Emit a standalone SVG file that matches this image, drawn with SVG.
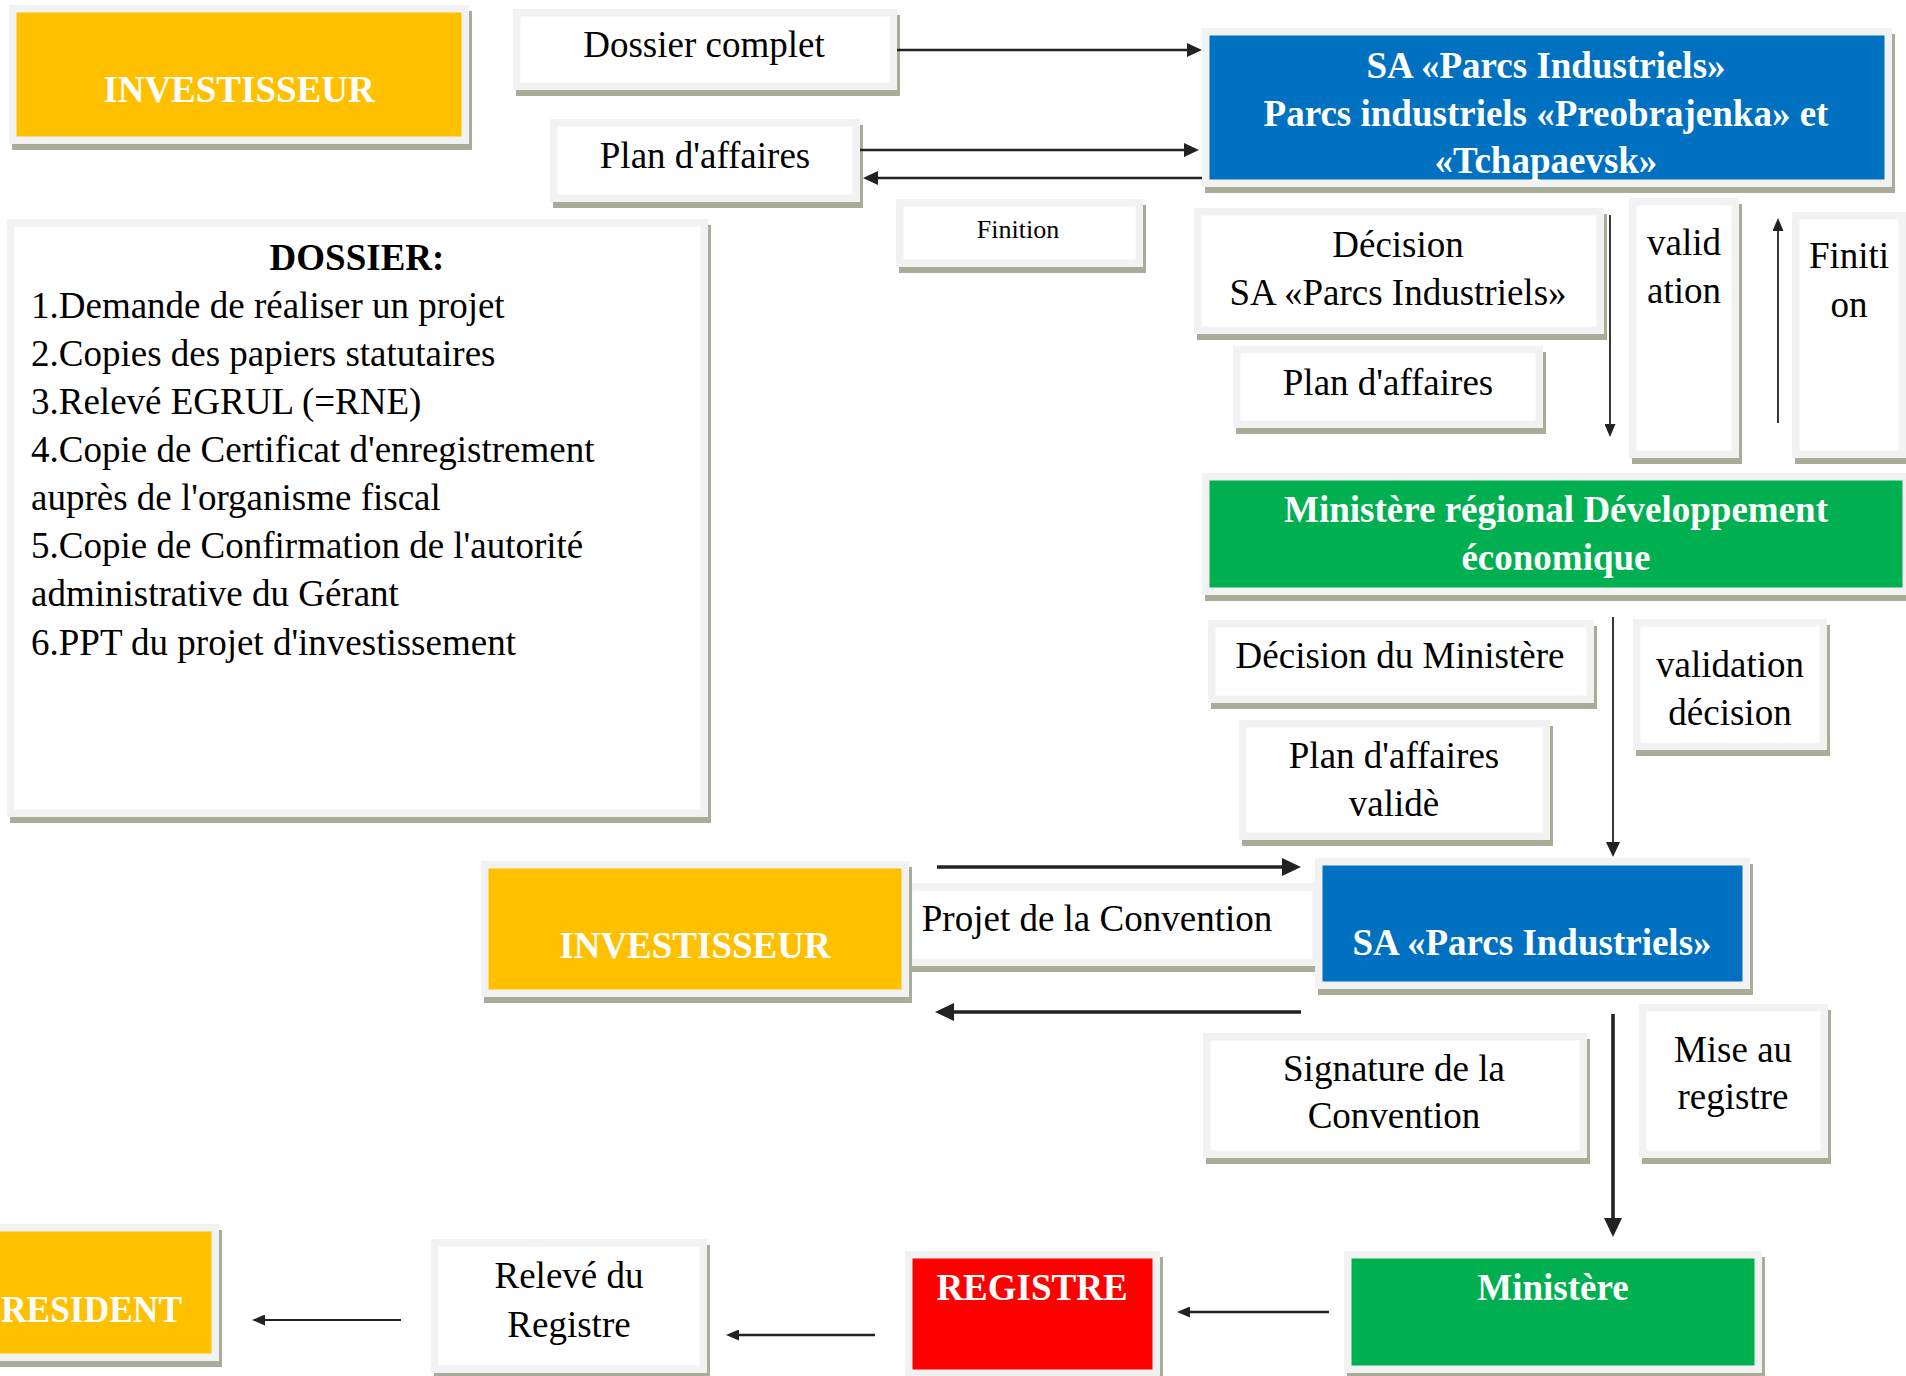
<svg xmlns="http://www.w3.org/2000/svg" width="1906" height="1376" viewBox="0 0 1906 1376">
<style>
.sh{fill:#a7ad97}
.fr{fill:#f2f2f2}
.w{fill:#ffffff}
.or{fill:#ffc000}
.bl{fill:#0070c0}
.gr{fill:#00b050}
.rd{fill:#ff0000}
text{font-family:"Liberation Serif","Times New Roman",serif;font-size:37px;fill:#000;text-anchor:middle}
.b{font-weight:bold;fill:#fff}
.h{font-weight:bold;fill:#000}
.l{text-anchor:start}
.s{font-size:26px}
.c line{stroke:#222;fill:none}
.thin{stroke-width:1.8}
.med{stroke-width:2.5}
.thk{stroke-width:3.6}
</style>
<defs>
<marker id="ht" markerUnits="userSpaceOnUse" markerWidth="13" markerHeight="11" refX="7" refY="5.5" orient="auto"><path d="M0,0 L13,5.5 L0,11 z" fill="#222"/></marker>
<marker id="hm" markerUnits="userSpaceOnUse" markerWidth="15" markerHeight="14" refX="9" refY="7" orient="auto"><path d="M0,0 L15,7 L0,14 z" fill="#222"/></marker>
<marker id="hk" markerUnits="userSpaceOnUse" markerWidth="19" markerHeight="18" refX="12" refY="9" orient="auto"><path d="M0,0 L19,9 L0,18 z" fill="#222"/></marker>
</defs>
<rect x="0" y="0" width="1906" height="1376" fill="#fff"/>

<g id="inv1"><rect class="sh" x="12" y="11" width="460" height="139"/><rect class="fr" x="9" y="5" width="460" height="139"/><rect class="or" x="16.5" y="12.5" width="445" height="124"/><text class="b" x="239" y="102">INVESTISSEUR</text></g>

<g id="dossierComplet"><rect class="sh" x="516" y="15" width="384" height="81"/><rect class="fr" x="513" y="9" width="384" height="81"/><rect class="w" x="520.5" y="16.5" width="369" height="66"/><text x="704" y="57">Dossier complet</text></g>

<g id="planAffaires1"><rect class="sh" x="553" y="125" width="310" height="83"/><rect class="fr" x="550" y="119" width="310" height="83"/><rect class="w" x="557.5" y="126.5" width="295" height="68"/><text x="705" y="168">Plan d'affaires</text></g>

<g id="dossierList"><rect class="sh" x="10" y="225" width="701" height="598"/><rect class="fr" x="7" y="219" width="701" height="598"/><rect class="w" x="14.5" y="226.5" width="686" height="583"/>
<text class="h" x="357" y="270">DOSSIER:</text>
<text class="l" x="31" y="318">1.Demande de réaliser un projet</text>
<text class="l" x="31" y="366">2.Copies des papiers statutaires</text>
<text class="l" x="31" y="414">3.Relevé EGRUL (=RNE)</text>
<text class="l" x="31" y="462">4.Copie de Certificat d'enregistrement</text>
<text class="l" x="31" y="510">auprès de l'organisme fiscal</text>
<text class="l" x="31" y="558">5.Copie de Confirmation de l'autorité</text>
<text class="l" x="31" y="606">administrative du Gérant</text>
<text class="l" x="31" y="655">6.PPT du projet d'investissement</text>
</g>

<g id="sa1"><rect class="sh" x="1205" y="34" width="690" height="159"/><rect class="fr" x="1202" y="28" width="690" height="159"/><rect class="bl" x="1209.5" y="35.5" width="675" height="144"/>
<text class="b" x="1546" y="78">SA «Parcs Industriels»</text>
<text class="b" x="1546" y="126">Parcs industriels «Preobrajenka» et</text>
<text class="b" x="1546" y="173">«Tchapaevsk»</text></g>

<g id="finition1"><rect class="sh" x="899" y="205" width="247" height="68"/><rect class="fr" x="896" y="199" width="247" height="68"/><rect class="w" x="903.5" y="206.5" width="232" height="53"/><text class="s" x="1018" y="238">Finition</text></g>

<g id="decisionSA"><rect class="sh" x="1197" y="214" width="410" height="126"/><rect class="fr" x="1194" y="208" width="410" height="126"/><rect class="w" x="1201.5" y="215.5" width="395" height="111"/><text x="1398" y="257">Décision</text><text x="1398" y="305">SA «Parcs Industriels»</text></g>

<g id="planAffaires2"><rect class="sh" x="1236" y="352" width="310" height="82"/><rect class="fr" x="1233" y="346" width="310" height="82"/><rect class="w" x="1240.5" y="353.5" width="295" height="67"/><text x="1388" y="395">Plan d'affaires</text></g>

<g id="validation1"><rect class="sh" x="1632" y="204" width="110" height="260"/><rect class="fr" x="1629" y="198" width="110" height="260"/><rect class="w" x="1636.5" y="205.5" width="95" height="245"/><text x="1684" y="255">valid</text><text x="1684" y="303">ation</text></g>

<g id="finition2"><rect class="sh" x="1795" y="218" width="114" height="246"/><rect class="fr" x="1792" y="212" width="114" height="246"/><rect class="w" x="1799.5" y="219.5" width="99" height="231"/><text x="1849" y="268">Finiti</text><text x="1849" y="317">on</text></g>

<g id="ministereRegional"><rect class="sh" x="1205" y="479" width="708" height="122"/><rect class="fr" x="1202" y="473" width="708" height="122"/><rect class="gr" x="1209.5" y="480.5" width="693" height="107"/><text class="b" x="1556" y="522">Ministère régional Développement</text><text class="b" x="1556" y="570">économique</text></g>

<g id="decisionMinistere"><rect class="sh" x="1211" y="626" width="386" height="83"/><rect class="fr" x="1208" y="620" width="386" height="83"/><rect class="w" x="1215.5" y="627.5" width="371" height="68"/><text x="1400" y="668">Décision du Ministère</text></g>

<g id="planValide"><rect class="sh" x="1242" y="726" width="311" height="120"/><rect class="fr" x="1239" y="720" width="311" height="120"/><rect class="w" x="1246.5" y="727.5" width="296" height="105"/><text x="1394" y="768">Plan d'affaires</text><text x="1394" y="816">validè</text></g>

<g id="validationDecision"><rect class="sh" x="1636" y="625" width="194" height="131"/><rect class="fr" x="1633" y="619" width="194" height="131"/><rect class="w" x="1640.5" y="626.5" width="179" height="116"/><text x="1730" y="677">validation</text><text x="1730" y="725">décision</text></g>

<g id="projetConvention"><rect class="sh" x="908" y="889" width="415" height="83"/><rect class="fr" x="905" y="883" width="415" height="83"/><rect class="w" x="912.5" y="890.5" width="400" height="68"/><text x="1097" y="931">Projet de la Convention</text></g>

<g id="inv2"><rect class="sh" x="484" y="867" width="428" height="136"/><rect class="fr" x="481" y="861" width="428" height="136"/><rect class="or" x="488.5" y="868.5" width="413" height="121"/><text class="b" x="695" y="958">INVESTISSEUR</text></g>

<g id="sa2"><rect class="sh" x="1318" y="864" width="435" height="131"/><rect class="fr" x="1315" y="858" width="435" height="131"/><rect class="bl" x="1322.5" y="865.5" width="420" height="116"/><text class="b" x="1532" y="955">SA «Parcs Industriels»</text></g>

<g id="signature"><rect class="sh" x="1206" y="1039" width="384" height="125"/><rect class="fr" x="1203" y="1033" width="384" height="125"/><rect class="w" x="1210.5" y="1040.5" width="369" height="110"/><text x="1394" y="1081">Signature de la</text><text x="1394" y="1128">Convention</text></g>

<g id="miseRegistre"><rect class="sh" x="1642" y="1010" width="189" height="154"/><rect class="fr" x="1639" y="1004" width="189" height="154"/><rect class="w" x="1646.5" y="1011.5" width="174" height="139"/><text x="1733" y="1062">Mise au</text><text x="1733" y="1109">registre</text></g>

<g id="resident"><rect class="sh" x="-7" y="1230" width="229" height="137"/><rect class="fr" x="-10" y="1224" width="229" height="137"/><rect class="or" x="-2.5" y="1231.5" width="214" height="122"/><text class="b l" x="1" y="1322" textLength="181" lengthAdjust="spacingAndGlyphs">RESIDENT</text></g>

<g id="releve"><rect class="sh" x="434" y="1245" width="276" height="134"/><rect class="fr" x="431" y="1239" width="276" height="134"/><rect class="w" x="438.5" y="1246.5" width="261" height="119"/><text x="569" y="1288">Relevé du</text><text x="569" y="1337">Registre</text></g>

<g id="registre"><rect class="sh" x="908" y="1257" width="255" height="126"/><rect class="fr" x="905" y="1251" width="255" height="126"/><rect class="rd" x="912.5" y="1258.5" width="240" height="111"/><text class="b" x="1032" y="1300">REGISTRE</text></g>

<g id="ministere"><rect class="sh" x="1347" y="1257" width="418" height="122"/><rect class="fr" x="1344" y="1251" width="418" height="122"/><rect class="gr" x="1351.5" y="1258.5" width="403" height="107"/><text class="b" x="1553" y="1300">Ministère</text></g>

<g id="connectors" class="c">
<line class="med" x1="897" y1="50" x2="1196" y2="50" marker-end="url(#hm)"/>
<line class="med" x1="860" y1="150" x2="1193" y2="150" marker-end="url(#hm)"/>
<line class="med" x1="1202" y1="178" x2="869" y2="178" marker-end="url(#hm)"/>
<line class="thin" x1="1610" y1="215" x2="1610" y2="431" marker-end="url(#ht)"/>
<line class="thin" x1="1778" y1="423" x2="1778" y2="224" marker-end="url(#ht)"/>
<line class="thin" x1="1613" y1="617" x2="1613" y2="851" marker-end="url(#hm)"/>
<line class="thk" x1="937" y1="867" x2="1294" y2="867" marker-end="url(#hk)"/>
<line class="thk" x1="1301" y1="1012" x2="942" y2="1012" marker-end="url(#hk)"/>
<line class="thk" x1="1613" y1="1014" x2="1613" y2="1230" marker-end="url(#hk)"/>
<line class="med" x1="1329" y1="1312" x2="1183" y2="1312" marker-end="url(#ht)"/>
<line class="med" x1="875" y1="1335" x2="732" y2="1335" marker-end="url(#ht)"/>
<line class="thin" x1="401" y1="1320" x2="258" y2="1320" marker-end="url(#ht)"/>
</g>
</svg>
